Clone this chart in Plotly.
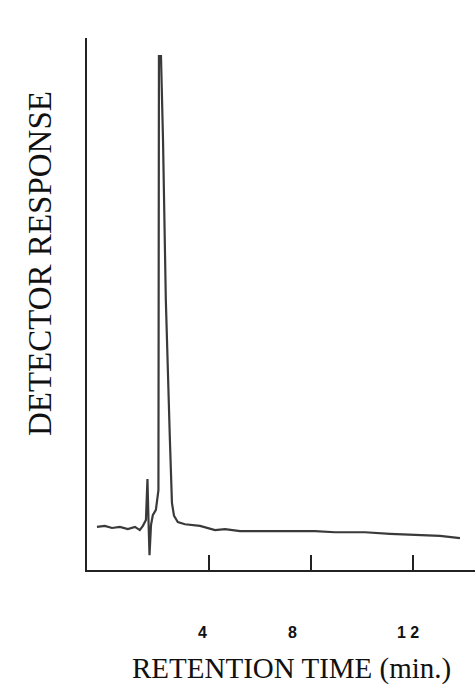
import plotly.graph_objects as go

# Retention time (min) and detector response (arbitrary units, 0-100)
time_min = [-0.39, -0.08, 0.20, 0.51, 0.82, 1.10, 1.29, 1.41, 1.53, 1.59, 1.63, 1.67,
            1.73, 1.80, 1.92, 2.02, 2.04, 2.12, 2.20, 2.31, 2.47, 2.55, 2.63, 2.78,
            3.06, 3.65, 4.24, 4.63, 5.22, 6.00, 7.18, 8.16, 8.94, 10.12, 11.10,
            12.27, 13.06, 13.84]
response = [8.1, 8.3, 7.9, 8.1, 7.7, 8.1, 7.5, 8.3, 9.4, 17.1, 9.4, 2.8,
            8.5, 10.3, 11.3, 15.0, 96.6, 96.6, 80.8, 50.8, 24.4, 12.6, 10.2, 9.0,
            8.6, 8.3, 7.5, 7.7, 7.3, 7.3, 7.3, 7.3, 7.1, 7.1, 6.8,
            6.6, 6.4, 6.0]

tick_vals = [4, 8, 12]
tick_text = ["4", "8", "1 2"]
tick_label_shift = [-6, -18, -5]

x_title = "RETENTION TIME (min.)"
y_title = "DETECTOR RESPONSE"

fig = go.Figure()
fig.add_trace(go.Scatter(x=time_min, y=response, mode="lines",
                         line=dict(color="#3a3a3a", width=2.2), hoverinfo="skip",
                         showlegend=False))

for v, t, s in zip(tick_vals, tick_text, tick_label_shift):
    fig.add_annotation(x=v, xref="x", y=0, yref="paper", text="<b>" + t + "</b>",
                       showarrow=False, xshift=s, yshift=-62, yanchor="middle",
                       font=dict(family="Liberation Sans", size=16, color="#111"))

fig.add_annotation(x=0.528, xref="paper", y=0, yref="paper", text=x_title,
                   showarrow=False, yshift=-98, yanchor="middle",
                   font=dict(family="Liberation Serif", size=29, color="#111"))
fig.add_annotation(x=0, xref="paper", y=0.575, yref="paper", text=y_title,
                   showarrow=False, xshift=-47, textangle=-90, xanchor="center",
                   yanchor="middle",
                   font=dict(family="Liberation Serif", size=33, color="#111"))

fig.update_layout(
    width=475, height=688,
    margin=dict(l=87, r=0, t=38, b=118),
    paper_bgcolor="white", plot_bgcolor="white",
    xaxis=dict(range=[-0.78, 14.43], showgrid=False, zeroline=False,
               showline=True, linecolor="#222", linewidth=2,
               tickvals=tick_vals, ticks="inside", ticklen=15, tickwidth=2,
               tickcolor="#222", showticklabels=False),
    yaxis=dict(range=[0, 100], showgrid=False, zeroline=False,
               showline=True, linecolor="#222", linewidth=2,
               ticks="", showticklabels=False),
)

fig.write_html("out.html")
